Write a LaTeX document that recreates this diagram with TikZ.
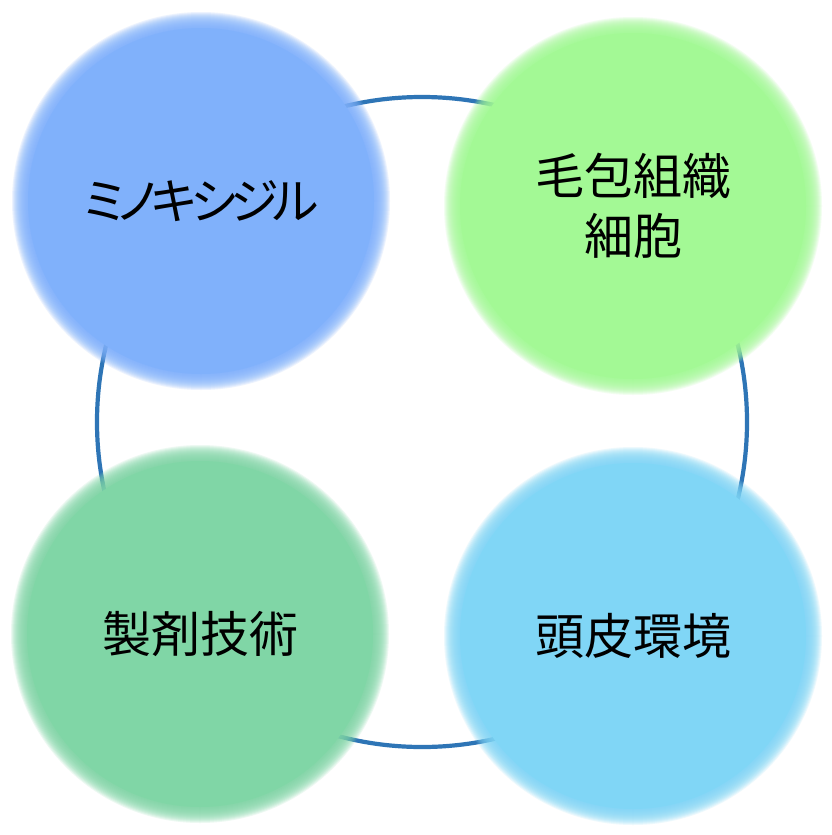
\documentclass[tikz,border=0pt]{standalone}
\usepackage{fontspec}
\newfontfamily\jpfont{Noto Sans CJK JP}
\newfontfamily\jpkana[RawFeature=+palt,LetterSpace=-12]{Noto Sans CJK JP}
\definecolor{cBlue}{HTML}{80B1FB}
\definecolor{cGreen}{HTML}{A3F995}
\definecolor{cMint}{HTML}{80D6A6}
\definecolor{cSky}{HTML}{80D6F6}
\definecolor{cRing}{HTML}{2E75B6}
\newcommand\softglow[3]{%
  \foreach \k in {0,...,16}{%
    \pgfmathsetmacro\rr{#2+8-\k}%
    \fill[#3,fill opacity=0.14] (#1) circle[radius=\rr pt];
  }%
}
\begin{document}
\begin{tikzpicture}[x=1pt,y=-1pt,
  ringline/.style={draw=cRing,line width=4.2pt},
  ball/.style={circle,inner sep=0pt,minimum size=346pt,align=center,text=black,
    font=\jpfont\fontsize{49}{60}\selectfont}]
\useasboundingbox[fill=white] (0,0) rectangle (832,835);
\coordinate (ringc) at (422,422);
\draw[ringline] (ringc) circle[radius=325pt];
\coordinate (ctl) at (201,201);
\coordinate (ctr) at (633,206);
\coordinate (cbl) at (200,634);
\coordinate (cbr) at (633,636);
\softglow{ctl}{181}{cBlue}
\softglow{ctr}{181}{cGreen}
\softglow{cbl}{181}{cMint}
\softglow{cbr}{181}{cSky}
\node[ball,fill=cBlue] (mino) at (ctl) {\jpkana ミノキシジル};
\node[ball,fill=cGreen] (moho) at (ctr) {毛包組織\\細胞};
\node[ball,fill=cMint] (seizai) at (cbl) {製剤技術};
\node[ball,fill=cSky] (tohi) at (cbr) {頭皮環境};
\end{tikzpicture}
\end{document}
